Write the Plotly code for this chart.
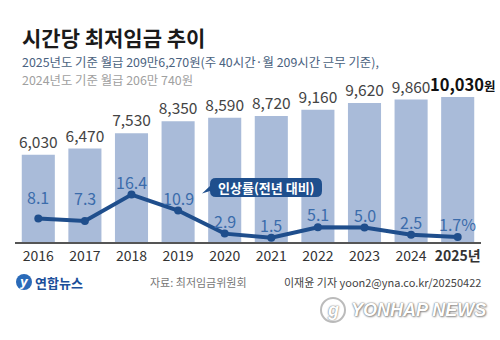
import plotly.graph_objects as go

years = ["2016", "2017", "2018", "2019", "2020", "2021", "2022", "2023", "2024", "2025"]
wage = [6030, 6470, 7530, 8350, 8590, 8720, 9160, 9620, 9860, 10030]
rate = [8.1, 7.3, 16.4, 10.9, 2.9, 1.5, 5.1, 5.0, 2.5, 1.7]
rate_labels = ["8.1", "7.3", "16.4", "10.9", "2.9", "1.5", "5.1", "5.0", "2.5", "1.7%"]

W, H = 500, 340
ML, MR, MT, MB = 15, 19, 90, 98
PW, PH = W - ML - MR, H - MT - MB
FONT = "Noto Sans CJK KR"


def px(x):
    return (x - ML) / PW


def py(y):
    return (H - MB - y) / PH


idx = list(range(len(years)))
ymax = PH / 0.01445
bar_text = [f"{v:,}" for v in wage]
bar_text[-1] = ""

fig = go.Figure()
fig.add_trace(go.Bar(
    x=idx, y=wage, width=0.71, marker=dict(color="#a9bbd9", line=dict(width=0)),
    text=bar_text, textposition="outside", cliponaxis=False, constraintext="none",
    textfont=dict(family=FONT, size=15.5, color="#444444"),
    hoverinfo="skip",
))
fig.add_trace(go.Scatter(
    x=idx, y=rate, yaxis="y2", mode="lines+markers",
    line=dict(color="#1f4e8c", width=4), marker=dict(color="#1f4e8c", size=8),
    hoverinfo="skip", cliponaxis=False,
))

ann = []
shift = {0: 22, 1: 23}
for i, (r, lab) in enumerate(zip(rate, rate_labels)):
    ann.append(dict(x=i, y=r, xref="x", yref="y2", text=lab, showarrow=False,
                    yshift=shift.get(i, 13), font=dict(family=FONT, size=16, color="#3b6cab")))

# highlighted last bar value
ann.append(dict(x=idx[-1], y=wage[-1], xref="x", yref="y", yanchor="bottom", xshift=5, yshift=-1,
                text=f"<b>{wage[-1]:,}</b><span style='font-size:12.5px'><b>원</b></span>",
                showarrow=False, font=dict(family=FONT, size=16.5, color="#111111")))

ann += [
    dict(x=px(20), y=py(37), xref="paper", yref="paper", xanchor="left", yanchor="middle",
         text="<b>시간당 최저임금 추이</b>", showarrow=False,
         font=dict(family=FONT, size=21, color="#1a1a1a")),
    dict(x=px(20), y=py(62), xref="paper", yref="paper", xanchor="left", yanchor="middle",
         text="2025년도 기준 월급 209만6,270원(주 40시간·월 209시간 근무 기준),", showarrow=False,
         font=dict(family=FONT, size=12.4, color="#4a6280")),
    dict(x=px(20), y=py(80), xref="paper", yref="paper", xanchor="left", yanchor="middle",
         text="2024년도 기준 월급 206만 740원", showarrow=False,
         font=dict(family=FONT, size=12.4, color="#a0a0a0")),
    dict(x=px(266), y=py(187.5), xref="paper", yref="paper", xanchor="center", yanchor="middle",
         text="<b>인상률(전년 대비)</b>", showarrow=False,
         font=dict(family=FONT, size=13, color="#ffffff")),
    dict(x=px(33), y=py(282), xref="paper", yref="paper", xanchor="left", yanchor="middle",
         text="<b>연합뉴스</b>", showarrow=False,
         font=dict(family=FONT, size=13, color="#1b4f9a")),
    dict(x=px(24), y=py(282), xref="paper", yref="paper", xanchor="center", yanchor="middle",
         text="<b><i>y</i></b>", showarrow=False,
         font=dict(family="DejaVu Sans", size=12, color="#ffffff")),
    dict(x=px(148), y=py(282), xref="paper", yref="paper", xanchor="left", yanchor="middle",
         text="자료: 최저임금위원회", showarrow=False,
         font=dict(family=FONT, size=11, color="#777777")),
    dict(x=px(483), y=py(282), xref="paper", yref="paper", xanchor="right", yanchor="middle",
         text="이재윤 기자 yoon2@yna.co.kr/20250422", showarrow=False,
         font=dict(family=FONT, size=11, color="#444444")),
    dict(x=px(488), y=py(310), xref="paper", yref="paper", xanchor="right", yanchor="middle",
         text="<b><i>YONHAP NEWS</i></b>", showarrow=False,
         font=dict(family="Liberation Sans", size=18, color="#ffffff",
                   shadow="0 0 1px #777, 0 0 2px #888, 1px 1px 2px #999")),
    dict(x=px(333), y=py(310), xref="paper", yref="paper", xanchor="center", yanchor="middle",
         text="<b><i>g</i></b>", showarrow=False,
         font=dict(family="Liberation Sans", size=18, color="#ffffff",
                   shadow="0 0 1px #777, 0 0 2px #888")),
]

# callout box path (rounded rect with pointer)
x0, x1, y0, y1, rr = 210, 322, 178, 197, 6
pts = [
    ("M", x0 + rr, y0), ("L", x1 - rr, y0), ("Q", x1, y0, x1, y0 + rr),
    ("L", x1, y1 - rr), ("Q", x1, y1, x1 - rr, y1), ("L", x0 + rr, y1),
    ("Q", x0, y1, x0, y1 - rr), ("L", 202, 193.5), ("L", x0, y0 + 8),
    ("L", x0, y0 + rr), ("Q", x0, y0, x0 + rr, y0),
]
path = ""
for p in pts:
    cmd = p[0]
    coords = p[1:]
    s = []
    for j in range(0, len(coords), 2):
        s.append(f"{px(coords[j]):.5f},{py(coords[j+1]):.5f}")
    path += cmd + " ".join(s) + " "
path += "Z"

shapes = [
    dict(type="path", xref="paper", yref="paper", path=path,
         fillcolor="#1f4f8d", line=dict(width=0)),
    dict(type="circle", xref="paper", yref="paper", x0=px(16), x1=px(32), y0=py(290), y1=py(274),
         fillcolor="#2a6ab8", line=dict(width=0)),
    dict(type="circle", xref="paper", yref="paper", x0=px(321), x1=px(345), y0=py(322), y1=py(298),
         fillcolor="#ffffff", line=dict(width=2, color="#bbbbbb")),
]

ticktext = years[:-1] + ["<b>2025년</b>"]
fig.update_layout(
    width=W, height=H, margin=dict(l=ML, r=MR, t=MT, b=MB),
    paper_bgcolor="#ffffff", plot_bgcolor="#ffffff", showlegend=False,
    xaxis=dict(range=[-0.5, 9.5], tickvals=idx, ticktext=ticktext, showgrid=False,
               zeroline=False, showline=True, linecolor="#555555", linewidth=1.5,
               ticks="", tickfont=dict(family=FONT, size=14, color="#333333")),
    yaxis=dict(range=[0, ymax], visible=False, showgrid=False, zeroline=False),
    yaxis2=dict(range=[0, ymax / 200], overlaying="y", visible=False, showgrid=False, zeroline=False),
    annotations=ann, shapes=shapes,
)
fig.write_html("out.html")
